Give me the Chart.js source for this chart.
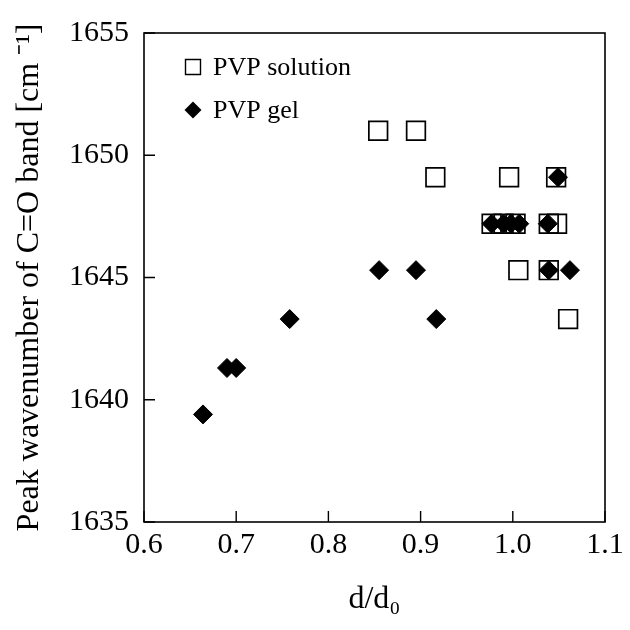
<!DOCTYPE html>
<html><head><meta charset="utf-8">
<script src="https://cdn.jsdelivr.net/npm/chart.js@4/dist/chart.umd.min.js"></script>
<style>html,body{margin:0;padding:0;background:#fff}#wrap{width:630px;height:630px;position:relative}</style>
</head><body><div id="wrap"><canvas id="c"></canvas></div>
<script>
// ---- data ----
const seriesNames = ['PVP solution', 'PVP gel'];
const solutionX = [0.854, 0.895, 0.916, 0.996, 1.047, 0.977, 0.990, 1.003, 1.039, 1.048, 1.006, 1.039, 1.060];
const solutionY = [1651.0, 1651.0, 1649.1, 1649.1, 1649.1, 1647.2, 1647.2, 1647.2, 1647.2, 1647.2, 1645.3, 1645.3, 1643.3];
const gelX = [0.664, 0.690, 0.700, 0.758, 0.855, 0.895, 0.917, 0.977, 0.990, 0.998, 1.007, 1.038, 1.049, 1.039, 1.062];
const gelY = [1639.4, 1641.3, 1641.3, 1643.3, 1645.3, 1645.3, 1643.3, 1647.2, 1647.2, 1647.2, 1647.2, 1647.2, 1649.1, 1645.3, 1645.3];
const xTicks = [0.6, 0.7, 0.8, 0.9, 1.0, 1.1];
const yTicks = [1635, 1640, 1645, 1650, 1655];
const xTitle = 'd/d\u2080';
const yTitle = 'Peak wavenumber of C=O band [cm \u207B\u00B9]';

const FONT = "'Liberation Serif', 'Times New Roman', serif";
const toPts = (xs, ys) => xs.map((x, i) => ({x: x, y: ys[i]}));

const frame = {
  id: 'frame',
  afterDatasetsDraw(chart) {
    const ctx = chart.ctx, a = chart.chartArea;
    const xs = chart.scales.x, ys = chart.scales.y;
    ctx.save();
    ctx.strokeStyle = '#000';
    ctx.lineWidth = 1.6;
    ctx.strokeRect(a.left, a.top, a.right - a.left, a.bottom - a.top);
    ctx.lineWidth = 1.4;
    ctx.beginPath();
    xs.ticks.forEach(t => {
      const px = xs.getPixelForValue(t.value);
      ctx.moveTo(px, a.bottom); ctx.lineTo(px, a.bottom - 11);
    });
    ys.ticks.forEach(t => {
      const py = ys.getPixelForValue(t.value);
      ctx.moveTo(a.left, py); ctx.lineTo(a.left + 11, py);
    });
    ctx.stroke();
    ctx.restore();
  }
};

const legendIn = {
  id: 'legendIn',
  afterDraw(chart) {
    const ctx = chart.ctx, a = chart.chartArea;
    ctx.save();
    ctx.font = "26px " + FONT;
    ctx.fillStyle = '#000';
    ctx.strokeStyle = '#000';
    ctx.textBaseline = 'middle';
    ctx.textAlign = 'left';
    seriesNames.forEach((name, i) => {
      const cx = a.left + 49, cy = a.top + 34 + i * 43;
      ctx.beginPath();
      if (i === 0) {
        ctx.lineWidth = 1.4;
        ctx.rect(cx - 7.5, cy - 7.5, 15, 15);
        ctx.stroke();
      } else {
        const r = 8.5;
        ctx.moveTo(cx - r, cy); ctx.lineTo(cx, cy - r); ctx.lineTo(cx + r, cy); ctx.lineTo(cx, cy + r);
        ctx.closePath();
        ctx.fill();
      }
      ctx.fillText(name, a.left + 69, cy + 1);
    });
    ctx.restore();
  }
};

new Chart(document.getElementById('c'), {
  type: 'scatter',
  data: {
    datasets: [
      {
        label: seriesNames[0],
        data: toPts(solutionX, solutionY),
        pointStyle: 'rect',
        pointRadius: 13.2,
        pointHoverRadius: 13.2,
        borderWidth: 1.7,
        borderColor: '#000',
        backgroundColor: 'rgba(0,0,0,0)',
        order: 1
      },
      {
        label: seriesNames[1],
        data: toPts(gelX, gelY),
        pointStyle: 'rectRot',
        pointRadius: 9.5,
        pointHoverRadius: 9.5,
        borderWidth: 1,
        borderColor: '#000',
        backgroundColor: '#000',
        order: 0
      }
    ]
  },
  options: {
    responsive: true,
    maintainAspectRatio: false,
    animation: false,
    events: [],
    layout: { padding: { left: 0, right: 25, top: 28, bottom: 0 } },
    plugins: { legend: { display: false }, tooltip: { enabled: false } },
    scales: {
      x: {
        type: 'linear', min: 0.6, max: 1.1,
        afterBuildTicks: s => { s.ticks = xTicks.map(v => ({value: v})); },
        afterFit: s => { s.height = 108; },
        grid: { display: false, drawTicks: false },
        border: { display: false },
        ticks: { color: '#000', font: { family: FONT, size: 30 }, padding: 5, maxRotation: 0,
                 callback: v => Number(v).toFixed(1) },
        title: { display: true, text: xTitle, color: '#000', font: { family: FONT, size: 32 }, padding: { top: 0, bottom: 11 } }
      },
      y: {
        type: 'linear', min: 1635, max: 1655,
        afterBuildTicks: s => { s.ticks = yTicks.map(v => ({value: v})); },
        afterFit: s => { s.width = 144; },
        grid: { display: false, drawTicks: false },
        border: { display: false },
        ticks: { color: '#000', font: { family: FONT, size: 30 }, padding: 15,
                 callback: v => String(v) },
        title: { display: true, text: yTitle, color: '#000', font: { family: FONT, size: 32 }, padding: { top: 10, bottom: 0 } }
      }
    }
  },
  plugins: [frame, legendIn]
});
</script>
</body></html>
